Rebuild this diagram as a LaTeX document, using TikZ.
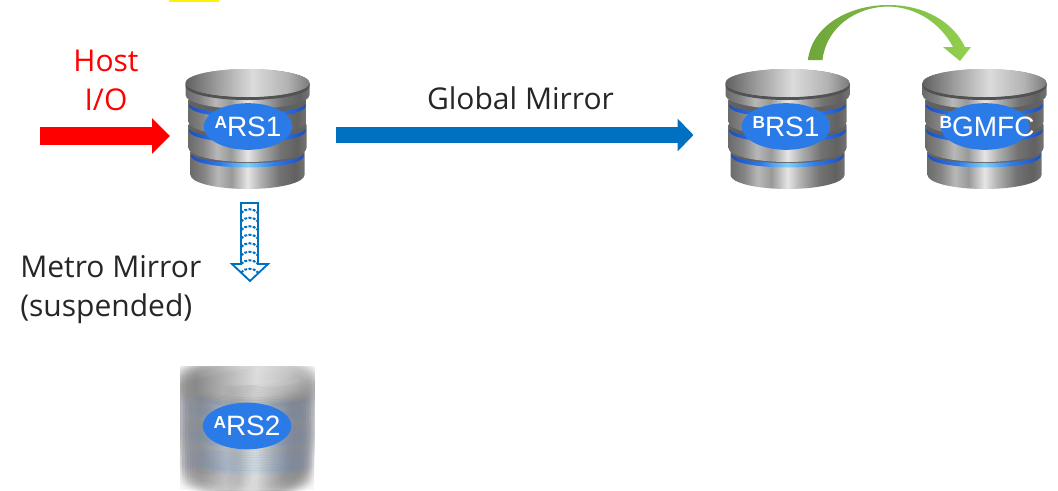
\documentclass[tikz,border=0pt]{standalone}
\usepackage{fontspec}
\setmainfont{Open Sans}
\newfontfamily\arialf{Liberation Sans}
\usetikzlibrary{arrows.meta,shapes.geometric}
\definecolor{ringD}{HTML}{1A4FC4}
\definecolor{ringM}{HTML}{2F7BEA}
\definecolor{ringL}{HTML}{7FD0F5}
\pgfdeclarehorizontalshading{steel}{100bp}{
 color(0bp)=(black!58); color(25bp)=(black!58); color(31bp)=(black!48); color(37bp)=(black!28); color(43bp)=(black!40);
 color(50bp)=(black!10); color(56bp)=(black!32); color(64bp)=(black!55); color(71bp)=(black!62); color(75bp)=(black!55); color(100bp)=(black!55)}
\pgfdeclarehorizontalshading{steeltop}{100bp}{
 color(0bp)=(black!62); color(25bp)=(black!62); color(38bp)=(black!38); color(52bp)=(black!14);
 color(66bp)=(black!30); color(75bp)=(black!52); color(100bp)=(black!52)}
\pgfdeclarehorizontalshading{bluering}{100bp}{
 color(0bp)=(ringD); color(25bp)=(ringD); color(38bp)=(ringM); color(50bp)=(ringL);
 color(62bp)=(ringM); color(75bp)=(ringD); color(100bp)=(ringD)}
\definecolor{ovalblue}{HTML}{2A7BE8}
\definecolor{arrowblue}{HTML}{0070C0}
\definecolor{greenD}{HTML}{6FA53A}
\definecolor{greenL}{HTML}{92D050}
\tikzset{
  lbl/.style={font=\fontsize{22.5pt}{29.25pt}\selectfont,inner sep=0pt},
  oval/.style={ellipse,fill=ovalblue,text=white,minimum width=66.5pt,minimum height=35pt,inner sep=0pt,
     font=\arialf\fontsize{21pt}{21pt}\selectfont}
}
\newcommand{\suptag}[1]{\raisebox{5.5pt}{\fontsize{13pt}{13pt}\selectfont\bfseries #1}}
\newcommand{\dbdisc}[3]{%
  \shade[shading=steel] (-#1,#2) -- (-#1,#3) arc[start angle=180,end angle=0,x radius=#1,y radius=14] -- (#1,#2)
     arc[start angle=0,end angle=-180,x radius=#1,y radius=14] -- cycle;}
\newcommand{\dbring}[2]{%
  \fill[black!62] (-#1,#2) arc[start angle=180,end angle=0,x radius=#1,y radius=9] -- (#1,#2-8) -- (-#1,#2-8) -- cycle;
  \shade[shading=bluering] (-#1,#2-1) -- (-#1,#2+1.5) arc[start angle=180,end angle=0,x radius=#1,y radius=11] -- (#1,#2-1)
     arc[start angle=0,end angle=180,x radius=#1,y radius=9] -- cycle;}
\newcommand{\dbcyl}{%
  \dbdisc{57}{152}{175}
  \dbring{56}{155}
  \dbdisc{59}{125}{148}
  \dbring{58}{130}
  \dbdisc{59}{100}{122}
  \dbring{58}{105}
  \dbdisc{62}{83}{95}
  \fill[black!68] (-62,83) arc[start angle=180,end angle=0,x radius=62,y radius=14] -- (62,86) arc[start angle=0,end angle=180,x radius=62,y radius=14] -- cycle;
  \shade[shading=steeltop] (0,83) ellipse[x radius=62,y radius=14];
}
\begin{document}
\begin{tikzpicture}[x=0.75pt,y=-0.75pt]
\useasboundingbox (0,0) rectangle (1058,490);
\fill[yellow] (169,0) rectangle (219,1.5);

\begin{scope}[shift={(247.5,0)}]\dbcyl\end{scope}
\begin{scope}[shift={(787.5,0)}]\dbcyl\end{scope}
\begin{scope}[shift={(984.5,0)}]\dbcyl\end{scope}

% blurred cylinder
\begin{scope}
\clip (180,366) rectangle (314,490);
\fill[black!4] (180,366) rectangle (314,490);
\foreach \dx in {-10,-7.5,...,10}{
 \foreach \dy in {-10,-7.5,...,10}{
  \begin{scope}[shift={(247+\dx,298+\dy)},transparency group,opacity=.05]\dbcyl\end{scope}
 }}
\fill[white,opacity=.25] (180,366) rectangle (314,490);
\end{scope}

\node[oval] (a1) at (248,126.5) {\makebox[0pt]{\suptag{A}RS1}};
\node[oval] (b1) at (786,126.5) {\makebox[0pt]{\suptag{B}RS1}};
\node[oval] (bg) at (985,126.5) {\makebox[0pt]{\kern3pt\suptag{B}GMFC}};
\node[oval] (a2) at (247,426) {\makebox[0pt]{\suptag{A}RS2}};

\node[lbl,text=red,align=center] (host) at (106,80) {Host\\I/O};
\node[lbl,text=black!85] (gm) at (520.5,98) {Global Mirror};
\node[lbl,text=black!85,align=left,anchor=west] (mm) at (20,290) {Metro Mirror\\(suspended)};

\coordinate (rs) at (40,136);
\coordinate (re) at (170,136);
\draw[line width=13.5pt,red,-{Triangle[length=13.5pt,width=26pt]}] (rs) -- (re);
\coordinate (bs) at (336,135);
\coordinate (be) at (693.5,135);
\draw[line width=11.5pt,arrowblue,-{Triangle[length=12pt,width=24pt]}] (bs) -- (be);

\shade[left color=greenD,right color=greenL]
  (808,60) .. controls (812,25) and (850,5) .. (888,5)
  .. controls (925,5) and (953,22) .. (965,47) -- (971,47) -- (960,61) -- (943,47) -- (953,47)
  .. controls (941,24) and (917,7) .. (888,6.5)
  .. controls (855,7) and (826,28) .. (822.5,60) -- cycle;

\draw[arrowblue,fill=white,line width=1.4pt,line join=miter]
  (241,203) -- (258,203) -- (258,264) -- (268,264) -- (250,281) -- (232,264) -- (241,264) -- cycle;
\begin{scope}
  \clip (241,203) -- (258,203) -- (258,264) -- (268,264) -- (250,281) -- (232,264) -- (241,264) -- cycle;
  \foreach \yy in {210,218.5,...,274}{
    \draw[arrowblue,line width=1.5pt,dash pattern=on 2.2pt off 1pt]
      (241,\yy+3) .. controls (245,\yy-2) and (254,\yy-2) .. (258,\yy+3);
  }
\end{scope}
\end{tikzpicture}
\end{document}
